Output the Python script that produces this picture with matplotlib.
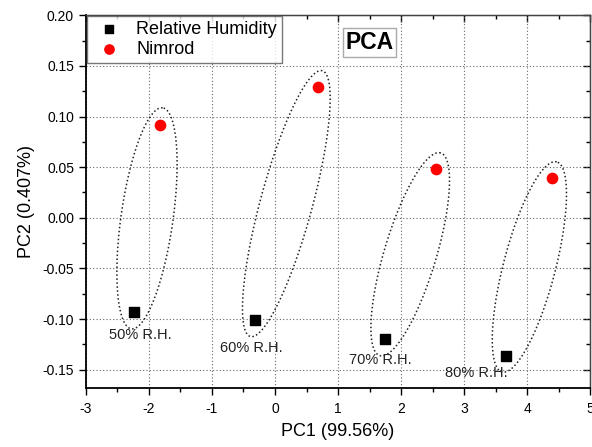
import numpy as np
import matplotlib
matplotlib.use("Agg")
import matplotlib.pyplot as plt
from matplotlib.ticker import MultipleLocator, FormatStrFormatter

plt.rcParams['font.family'] = ['Liberation Sans', 'DejaVu Sans']
plt.rcParams['axes.unicode_minus'] = False

labels = ["50% R.H.", "60% R.H.", "70% R.H.", "80% R.H."]
rh_pc1 = [-2.24, -0.32, 1.74, 3.67]
rh_pc2 = [-0.093, -0.101, -0.120, -0.136]
nim_pc1 = [-1.82, 0.68, 2.55, 4.40]
nim_pc2 = [0.092, 0.129, 0.048, 0.039]
label_pc1 = [-2.13, -0.37, 1.67, 3.19]
label_pc2 = [-0.116, -0.129, -0.140, -0.153]

fig = plt.figure(figsize=(5.92, 4.47), dpi=100)
ax = fig.add_axes([0.145, 0.132, 0.852, 0.834])
ax.set_xlim(-3, 5)
ax.set_ylim(-0.168, 0.20)

# grid
ax.grid(True, which='major', linestyle=(0, (1, 2)), color='#666666', linewidth=0.8)
ax.set_axisbelow(True)

# ellipses drawn in a pixel-like scaled space
sx, sy = 63.0, 1014.0
t = np.linspace(0, 2 * np.pi, 300)
for x1, y1, x2, y2 in zip(rh_pc1, rh_pc2, nim_pc1, nim_pc2):
    u1, v1, u2, v2 = x1 * sx, y1 * sy, x2 * sx, y2 * sy
    cu, cv = (u1 + u2) / 2, (v1 + v2) / 2
    d = np.hypot(u2 - u1, v2 - v1)
    ang = np.arctan2(v2 - v1, u2 - u1)
    a = d / 2 + 17
    b = 26
    eu = a * np.cos(t)
    ev = b * np.sin(t)
    U = cu + eu * np.cos(ang) - ev * np.sin(ang)
    V = cv + eu * np.sin(ang) + ev * np.cos(ang)
    ax.plot(U / sx, V / sy, linestyle=(0, (1, 1.6)), color='#222222', linewidth=1.1)

ax.scatter(rh_pc1, rh_pc2, marker='s', s=45, color='black', zorder=5, label='Relative Humidity')
ax.scatter(nim_pc1, nim_pc2, marker='o', s=55, color='#ff0000', zorder=5, label='Nimrod')

for lx, ly, lab in zip(label_pc1, label_pc2, labels):
    ax.text(lx, ly, lab, ha='center', va='center', fontsize=10.5, color='#222222')

ax.xaxis.set_major_locator(MultipleLocator(1))
ax.xaxis.set_minor_locator(MultipleLocator(0.5))
ax.yaxis.set_major_locator(MultipleLocator(0.05))
ax.yaxis.set_minor_locator(MultipleLocator(0.025))
ax.yaxis.set_major_formatter(FormatStrFormatter('%.2f'))

ax.tick_params(which='both', direction='out', labelsize=10)
ax.tick_params(which='major', length=5, width=1)
ax.tick_params(which='minor', length=3, width=1)
ax.tick_params(axis='x', pad=5)

# inward ticks on top and right
top = ax.secondary_xaxis('top')
top.xaxis.set_major_locator(MultipleLocator(1))
top.xaxis.set_minor_locator(MultipleLocator(0.5))
top.tick_params(which='both', direction='in', labeltop=False, width=1)
top.tick_params(which='major', length=5)
top.tick_params(which='minor', length=3)
right = ax.secondary_yaxis('right')
right.yaxis.set_major_locator(MultipleLocator(0.05))
right.yaxis.set_minor_locator(MultipleLocator(0.025))
right.tick_params(which='both', direction='in', labelright=False, width=1)
right.tick_params(which='major', length=5)
right.tick_params(which='minor', length=3)

for sp in ['left', 'bottom']:
    ax.spines[sp].set_linewidth(1.3)
for sp in ['top', 'right']:
    ax.spines[sp].set_linewidth(1.0)
    ax.spines[sp].set_color('#444444')

ax.set_xlabel('PC1 (99.56%)', fontsize=13, labelpad=5)
ax.set_ylabel('PC2 (0.407%)', fontsize=13, labelpad=5)

leg = ax.legend(loc='upper left', fontsize=13, frameon=True, fancybox=False,
                edgecolor='#555555', borderaxespad=0.05, handletextpad=0.5,
                borderpad=0.25, labelspacing=0.2, handlelength=2.0,
                markerscale=0.9)
leg.get_frame().set_linewidth(1.0)

ax.text(1.5, 0.173, 'PCA', fontsize=16.5, fontweight='bold', ha='center', va='center',
        bbox=dict(boxstyle='square,pad=0.12', facecolor='white', edgecolor='#aaaaaa', linewidth=1))

fig.savefig('out.png', dpi=100)
